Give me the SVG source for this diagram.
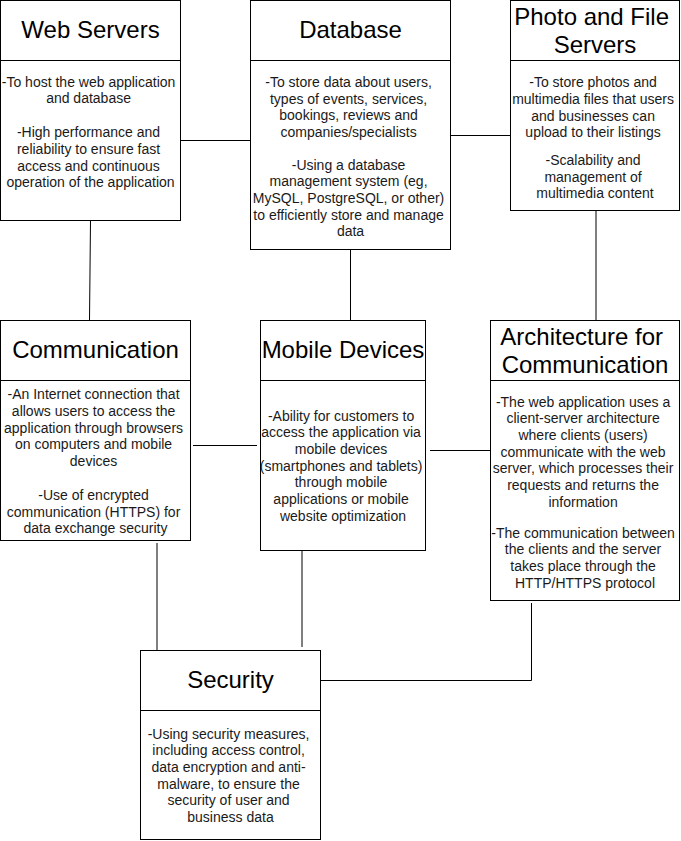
<svg xmlns="http://www.w3.org/2000/svg" width="681" height="841" viewBox="0 0 681 841">
<style>
.box{fill:#ffffff;stroke:#000000;stroke-width:1}
.sep{stroke:#000000;stroke-width:1;fill:none}
.conn{stroke:#000000;stroke-width:1;fill:none}
.title{font-family:"Liberation Sans",Arial,Helvetica,sans-serif;font-size:24px;fill:#000000;text-anchor:middle}
.body{font-family:"Liberation Sans",Arial,Helvetica,sans-serif;font-size:14px;fill:#1a1a1a;text-anchor:middle}
</style>
<rect width="681" height="841" fill="#ffffff"/>
<g id="connectors">
<path class="conn" d="M180.5 140.5 H250.5"/>
<path class="conn" d="M450.5 135.5 H510.5"/>
<path class="conn" d="M90.5 220.5 L89.5 320.5"/>
<path class="conn" d="M350.5 249.5 V320.5"/>
<path class="conn" d="M596 210.5 V320.5"/>
<path class="conn" d="M193 445.5 H257"/>
<path class="conn" d="M430 450.5 H490.5"/>
<path class="conn" d="M157 543 V650.5"/>
<path class="conn" d="M302 550.5 V647"/>
<path class="conn" d="M531.5 603 V680.5 H320.5"/>
</g>
<g id="web-servers">
<rect class="box" x="0.5" y="0.5" width="180" height="220"/>
<path class="sep" d="M0.5 60.5 H180.5"/>
<text class="title" x="90.5" y="37.5">Web Servers</text>
<text class="body">
<tspan x="90.5" y="86.7">-To host the web application</tspan>
<tspan x="90.5" y="103.3">and database</tspan>
<tspan x="90.5" y="137.3">-High performance and</tspan>
<tspan x="90.5" y="154">reliability to ensure fast</tspan>
<tspan x="90.5" y="170.7">access and continuous</tspan>
<tspan x="90.5" y="187.3">operation of the application</tspan>
</text>
</g>
<g id="database">
<rect class="box" x="250.5" y="0.5" width="200" height="249"/>
<path class="sep" d="M250.5 60.5 H450.5"/>
<text class="title" x="350.5" y="37.5">Database</text>
<text class="body">
<tspan x="350.5" y="87">-To store data about users,</tspan>
<tspan x="350.5" y="103.7">types of events, services,</tspan>
<tspan x="350.5" y="120.3">bookings, reviews and</tspan>
<tspan x="350.5" y="137">companies/specialists</tspan>
<tspan x="350.5" y="169.7">-Using a database</tspan>
<tspan x="350.5" y="186.3">management system (eg,</tspan>
<tspan x="350.5" y="203">MySQL, PostgreSQL, or other)</tspan>
<tspan x="350.5" y="219.7">to efficiently store and manage</tspan>
<tspan x="350.5" y="236.3">data</tspan>
</text>
</g>
<g id="photo-file-servers">
<rect class="box" x="510.5" y="0.5" width="169" height="210"/>
<path class="sep" d="M510.5 60.5 H679.5"/>
<text class="title">
<tspan x="595" y="24.5">Photo and File</tspan>
<tspan x="595" y="53">Servers</tspan>
</text>
<text class="body">
<tspan x="595" y="87.3">-To store photos and</tspan>
<tspan x="595" y="104">multimedia files that users</tspan>
<tspan x="595" y="120.7">and businesses can</tspan>
<tspan x="595" y="137.3">upload to their listings</tspan>
<tspan x="595" y="165">-Scalability and</tspan>
<tspan x="595" y="181.7">management of</tspan>
<tspan x="595" y="198.3">multimedia content</tspan>
</text>
</g>
<g id="communication">
<rect class="box" x="0.5" y="320.5" width="190" height="220"/>
<path class="sep" d="M0.5 380.5 H190.5"/>
<text class="title" x="95.5" y="357.5">Communication</text>
<text class="body">
<tspan x="95.5" y="399.3">-An Internet connection that</tspan>
<tspan x="95.5" y="416">allows users to access the</tspan>
<tspan x="95.5" y="432.7">application through browsers</tspan>
<tspan x="95.5" y="449.3">on computers and mobile</tspan>
<tspan x="95.5" y="466">devices</tspan>
<tspan x="95.5" y="500">-Use of encrypted</tspan>
<tspan x="95.5" y="516.7">communication (HTTPS) for</tspan>
<tspan x="95.5" y="533.3">data exchange security</tspan>
</text>
</g>
<g id="mobile-devices">
<rect class="box" x="260.5" y="320.5" width="165" height="230"/>
<path class="sep" d="M260.5 380.5 H425.5"/>
<text class="title" x="343" y="358">Mobile Devices</text>
<text class="body">
<tspan x="343" y="420.7">-Ability for customers to</tspan>
<tspan x="343" y="437.3">access the application via</tspan>
<tspan x="343" y="454">mobile devices</tspan>
<tspan x="343" y="470.7">(smartphones and tablets)</tspan>
<tspan x="343" y="487.3">through mobile</tspan>
<tspan x="343" y="504">applications or mobile</tspan>
<tspan x="343" y="520.7">website optimization</tspan>
</text>
</g>
<g id="architecture">
<rect class="box" x="490.5" y="320.5" width="189" height="280"/>
<path class="sep" d="M490.5 380.5 H679.5"/>
<text class="title">
<tspan x="585" y="345">Architecture for</tspan>
<tspan x="585" y="372.5">Communication</tspan>
</text>
<text class="body">
<tspan x="585" y="406.5">-The web application uses a</tspan>
<tspan x="585" y="423.2">client-server architecture</tspan>
<tspan x="585" y="439.9">where clients (users)</tspan>
<tspan x="585" y="456.6">communicate with the web</tspan>
<tspan x="585" y="473.3">server, which processes their</tspan>
<tspan x="585" y="490">requests and returns the</tspan>
<tspan x="585" y="506.7">information</tspan>
<tspan x="585" y="537.5">-The communication between</tspan>
<tspan x="585" y="554.2">the clients and the server</tspan>
<tspan x="585" y="570.9">takes place through the</tspan>
<tspan x="585" y="587.6">HTTP/HTTPS protocol</tspan>
</text>
</g>
<g id="security">
<rect class="box" x="140.5" y="650.5" width="180" height="189"/>
<path class="sep" d="M140.5 710.5 H320.5"/>
<text class="title" x="230.5" y="687.5">Security</text>
<text class="body">
<tspan x="230.5" y="738.7">-Using security measures,</tspan>
<tspan x="230.5" y="755.3">including access control,</tspan>
<tspan x="230.5" y="772">data encryption and anti-</tspan>
<tspan x="230.5" y="788.7">malware, to ensure the</tspan>
<tspan x="230.5" y="805.3">security of user and</tspan>
<tspan x="230.5" y="822">business data</tspan>
</text>
</g>
</svg>
